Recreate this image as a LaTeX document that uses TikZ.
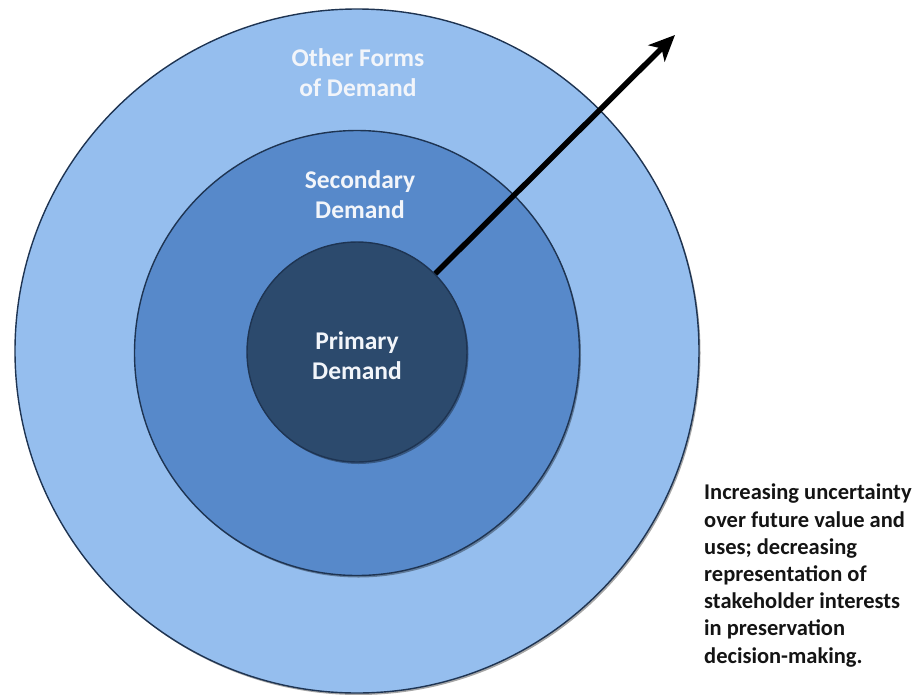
\documentclass[tikz,border=0pt]{standalone}
\usepackage{fontspec}
\setmainfont{Carlito}
\usetikzlibrary{arrows.meta,shadows}
\definecolor{ringA}{HTML}{95BEEE}
\definecolor{ringB}{HTML}{5789CA}
\definecolor{ringC}{HTML}{2C4A6D}
\definecolor{ringline}{HTML}{1E3452}
\definecolor{labelwhite}{HTML}{F2F5FA}
\definecolor{notetext}{HTML}{141414}
\tikzset{
  ring/.style={circle, draw=ringline, line width=1.4pt, inner sep=0pt,
    drop shadow={shadow xshift=1.5pt, shadow yshift=-2pt, opacity=0.35, fill=black}},
  ringlabel/.style={align=center, text=labelwhite, inner sep=0pt,
    font=\fontsize{25.5}{30}\selectfont\bfseries},
  notelabel/.style={align=left, text=notetext, inner sep=0pt, anchor=north west,
    font=\fontsize{22.5}{27.2}\selectfont\bfseries},
  growarrow/.style={line width=5.5pt, draw=black,
    -{Stealth[length=26pt, width=23pt, inset=7pt]}}
}
\begin{document}
\begin{tikzpicture}[x=1pt,y=-1pt]
\useasboundingbox (0,0) rectangle (918,694);
\node[ring, fill=ringA, minimum size=684pt] (outer) at (357,351) {};
\node[ring, fill=ringB, minimum size=445pt] (middle) at (357,353) {};
\node[ring, fill=ringC, minimum size=220pt] (inner) at (357,352) {};
\node[ringlabel] (otherlbl) at (358,73) {Other Forms\\of Demand};
\node[ringlabel] (secondlbl) at (360,195) {Secondary\\Demand};
\node[ringlabel] (primelbl) at (357,356) {Primary\\Demand};
\coordinate (tip) at (675,35);
\draw[growarrow] (inner.45) -- (tip);
\node[notelabel] (note) at (704,484) {Increasing uncertainty\\over future value and\\uses; decreasing\\representation of\\stakeholder interests\\in preservation\\decision-making.};
\end{tikzpicture}
\end{document}
